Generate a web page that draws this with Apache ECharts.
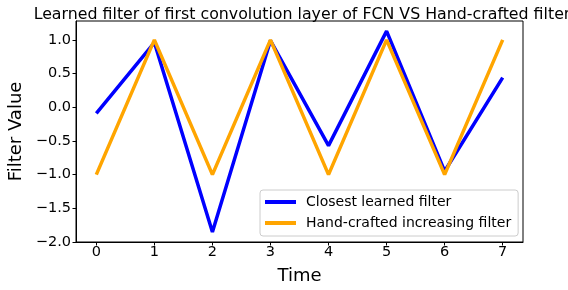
<!DOCTYPE html>
<html>
<head>
<meta charset="utf-8">
<script src="https://cdn.jsdelivr.net/npm/echarts@6/dist/echarts.min.js"></script>
<style>html,body{margin:0;padding:0;background:#fff}#c{width:568px;height:290px}</style>
</head>
<body>
<div id="c"></div>
<script>
const timeSteps = [0, 1, 2, 3, 4, 5, 6, 7];
const learnedFilter = [-0.09, 0.96, -1.85, 0.99, -0.57, 1.13, -0.95, 0.44];
const handCraftedFilter = [-1, 1, -1, 1, -1, 1, -1, 1];
const yTicks = [-2.0, -1.5, -1.0, -0.5, 0.0, 0.5, 1.0];
const seriesNames = ['Closest learned filter', 'Hand-crafted increasing filter'];

const FONT = 'DejaVu Sans';
const chart = echarts.init(document.getElementById('c'), null, {renderer: 'canvas'});
const fmt = v => (v < 0 ? '\u2212' : '') + Math.abs(v).toFixed(1);

chart.setOption({
  animation: false,
  backgroundColor: '#fff',
  textStyle: {fontFamily: FONT},
  title: {
    text: 'Learned filter of first convolution layer of FCN VS Hand-crafted filter',
    left: 297, textAlign: 'center', top: 2,
    textStyle: {fontFamily: FONT, fontSize: 15.8, fontWeight: 'normal', color: '#000'}
  },
  grid: {left: 76, right: 45, top: 21, bottom: 48, show: true, borderColor: '#000', borderWidth: 1, outerBoundsMode: 'none'},
  legend: {
    orient: 'vertical', left: 260, top: 190,
    data: seriesNames,
    icon: 'rect', itemWidth: 31, itemHeight: 4, itemGap: 5,
    padding: [4, 7, 5, 5],
    backgroundColor: 'rgba(255,255,255,0.8)', borderColor: '#cccccc', borderWidth: 1, borderRadius: 3,
    textStyle: {fontFamily: FONT, fontSize: 14, color: '#000', lineHeight: 16, padding: [0, 0, 0, 5]}
  },
  xAxis: {
    type: 'value', min: -0.35, max: 7.35,
    name: 'Time', nameLocation: 'middle', nameGap: 25,
    nameTextStyle: {fontFamily: FONT, fontSize: 18, color: '#000'},
    axisLine: {show: true, onZero: false, lineStyle: {color: '#000', width: 1}},
    axisTick: {show: true, length: 3.5, lineStyle: {color: '#000'}, customValues: timeSteps},
    axisLabel: {fontFamily: FONT, fontSize: 14.5, color: '#000', margin: 3, customValues: timeSteps, formatter: v => String(v)},
    splitLine: {show: false}
  },
  yAxis: {
    type: 'value', min: -2.0, max: 1.28,
    name: 'Filter Value', nameLocation: 'middle', nameGap: 47,
    nameTextStyle: {fontFamily: FONT, fontSize: 18, color: '#000'},
    axisLine: {show: true, onZero: false, lineStyle: {color: '#000', width: 1}},
    axisTick: {show: true, length: 3.5, lineStyle: {color: '#000'}, customValues: yTicks},
    axisLabel: {fontFamily: FONT, fontSize: 14.5, color: '#000', margin: 5, customValues: yTicks, formatter: fmt},
    splitLine: {show: false}
  },
  series: [
    {
      name: seriesNames[0], type: 'line', showSymbol: false, symbol: 'none',
      data: timeSteps.map((t, i) => [t, learnedFilter[i]]),
      lineStyle: {color: '#0000ff', width: 3.5}, itemStyle: {color: '#0000ff'}
    },
    {
      name: seriesNames[1], type: 'line', showSymbol: false, symbol: 'none',
      data: timeSteps.map((t, i) => [t, handCraftedFilter[i]]),
      lineStyle: {color: '#ffa500', width: 3.5}, itemStyle: {color: '#ffa500'}
    }
  ]
});
</script>
</body>
</html>
